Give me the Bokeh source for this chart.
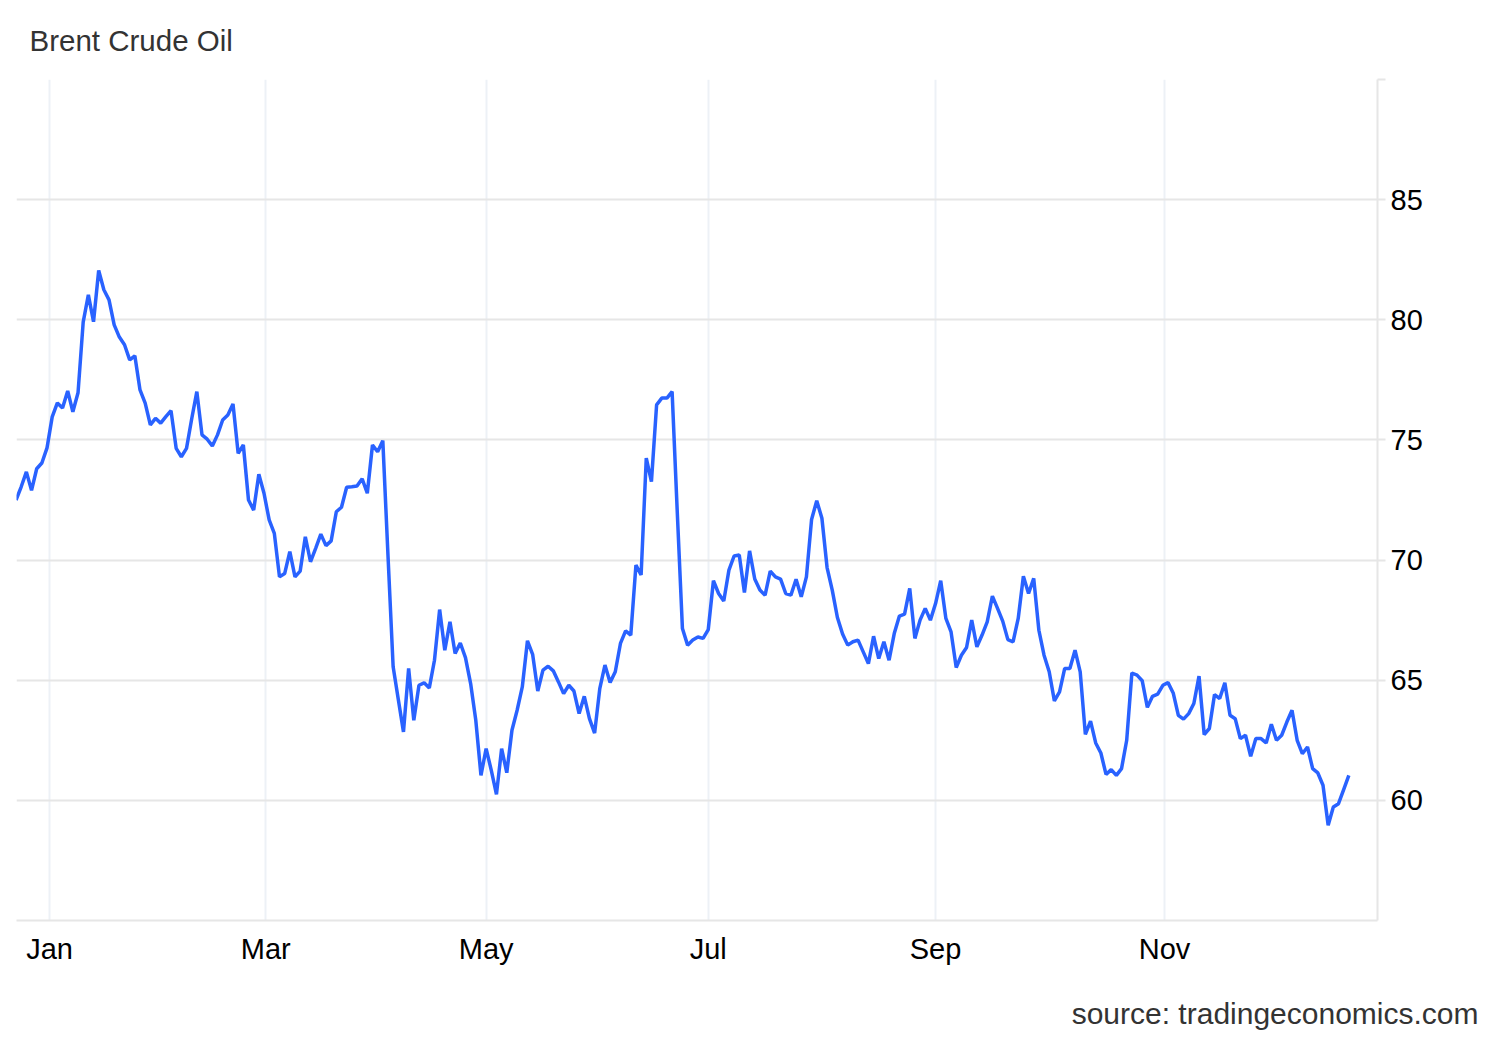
import numpy as np
import pandas as pd
from bokeh.plotting import figure
from bokeh.layouts import column
from bokeh.models import Range1d, FixedTicker, Label, ColumnDataSource
from bokeh.embed import file_html
from bokeh.resources import INLINE

title_text = "Brent Crude Oil"
source_text = "source: tradingeconomics.com"

# trading calendar (weekdays minus exchange holidays)
start_date = "2024-12-20"
end_date = "2025-12-22"
holidays = ["2024-12-25", "2025-01-01", "2025-04-18"]

# daily closes, by month (USD/bbl)
dec24 = [72.50, 73.05, 73.67, 72.90, 73.80, 74.04, 74.67]
jan = [75.96, 76.54, 76.33, 77.04, 76.17, 76.96, 79.90, 81.04, 79.92, 82.05, 81.25,
       80.83, 79.79, 79.28, 78.96, 78.33, 78.50, 77.08, 76.53, 75.63, 75.90, 75.70]
feb = [75.97, 76.22, 74.65, 74.30, 74.65, 75.87, 77.01, 75.21, 75.03, 74.75, 75.21,
       75.83, 76.04, 76.50, 74.44, 74.79, 72.50, 72.08, 73.57, 72.78]
mar = [71.67, 71.11, 69.30, 69.44, 70.35, 69.30, 69.54, 70.97, 69.93, 70.49, 71.08,
       70.60, 70.80, 72.01, 72.20, 73.03, 73.05, 73.08, 73.38, 72.78, 74.79]
apr = [74.51, 74.97, 70.20, 65.56, 64.20, 62.85, 65.49, 63.33, 64.79, 64.89, 64.68,
       65.83, 67.94, 66.25, 67.43, 66.11, 66.55, 65.94, 64.86, 63.33, 61.04]
may = [62.15, 61.25, 60.25, 62.15, 61.15, 62.92, 63.75, 64.72, 66.64, 66.08, 64.55,
       65.42, 65.58, 65.39, 64.93, 64.44, 64.79, 64.55, 63.61, 64.33, 63.40, 62.80]
jun = [64.65, 65.63, 64.90, 65.35, 66.53, 67.05, 66.88, 69.79, 69.38, 74.24, 73.26,
       76.46, 76.74, 76.74, 77.01, 72.00, 67.15, 66.46, 66.67, 66.80, 66.74]
jul = [67.11, 69.14, 68.61, 68.30, 69.58, 70.17, 70.21, 68.65, 70.38, 69.21, 68.75,
       68.54, 69.54, 69.30, 69.21, 68.61, 68.54, 69.20, 68.47, 69.30, 71.69, 72.47, 71.74]
aug = [69.69, 68.75, 67.61, 66.92, 66.46, 66.60, 66.67, 66.18, 65.69, 66.83, 65.90,
       66.60, 65.83, 66.94, 67.67, 67.75, 68.82, 66.74, 67.50, 67.99, 67.50]
sep = [68.19, 69.14, 67.57, 67.01, 65.53, 66.04, 66.36, 67.50, 66.39, 66.88, 67.43,
       68.50, 67.99, 67.46, 66.69, 66.60, 67.57, 69.33, 68.61, 69.24, 67.08, 66.04]
oct_ = [65.35, 64.14, 64.51, 65.49, 65.49, 66.25, 65.35, 62.75, 63.30, 62.39, 61.97,
        61.08, 61.28, 61.04, 61.32, 62.50, 65.30, 65.21, 64.98, 63.87, 64.33, 64.42, 64.79]
nov = [64.90, 64.47, 63.54, 63.38, 63.61, 64.03, 65.17, 62.74, 62.99, 64.40, 64.24,
       64.89, 63.54, 63.40, 62.57, 62.71, 61.83, 62.57, 62.57, 62.39]
dec = [63.17, 62.50, 62.71, 63.26, 63.75, 62.50, 61.94, 62.22, 61.32, 61.14, 60.63,
       58.96, 59.72, 59.86, 60.45, 61.04]

month_starts = ["2025-01-01", "2025-03-01", "2025-05-01", "2025-07-01", "2025-09-01", "2025-11-01"]
month_labels = ["Jan", "Mar", "May", "Jul", "Sep", "Nov"]
y_ticks = [60, 65, 70, 75, 80, 85, 90]

values = dec24 + jan + feb + mar + apr + may + jun + jul + aug + sep + oct_ + nov + dec
dates = pd.bdate_range(start_date, end_date, freq="C", holidays=holidays)
n = min(len(dates), len(values))
dates = dates[:n]
values = values[:n]
idx = np.arange(n, dtype=float)

# ordinal axis: month ticks interpolated between trading days
ts = dates.asi8.astype(float)
tick_pos = [round(float(np.interp(pd.Timestamp(m).value, ts, idx)), 4) for m in month_starts]

src = ColumnDataSource(dict(x=idx, y=values))

FONT = "Liberation Sans"
W = 1492


def text_strip(h):
    f = figure(width=W, height=h, output_backend="svg", toolbar_location=None,
               x_range=Range1d(0, W), y_range=Range1d(0, h), min_border=0,
               x_axis_location=None, y_axis_location=None, frame_align=False,
               outline_line_color=None, background_fill_color="white",
               border_fill_color="white")
    f.grid.visible = False
    return f


# header strip with the title
top = text_strip(60)
top.add_layout(Label(x=29, y=20, text=title_text, text_font=FONT, text_font_size="29.5px",
                     text_color="#333333", text_align="left", text_baseline="middle"))

# main chart
p = figure(width=W, height=915, output_backend="svg", toolbar_location=None,
           x_range=Range1d(0.09, 263.55), y_range=Range1d(55, 90),
           y_axis_location="right", frame_align=False,
           min_border_left=16, min_border_right=115, min_border_top=19, min_border_bottom=55,
           outline_line_color=None, background_fill_color="white", border_fill_color="white")

p.line("x", "y", source=src, line_color="#2962ff", line_width=3.5)

xax = p.xaxis[0]
xax.ticker = FixedTicker(ticks=tick_pos)
xax.major_label_overrides = {t: l for t, l in zip(tick_pos, month_labels)}
xax.axis_line_color = "#e6e6e6"
xax.axis_line_width = 2
xax.major_tick_line_color = None
xax.minor_tick_line_color = None
xax.major_tick_out = 0
xax.major_tick_in = 0
xax.major_label_standoff = 12
xax.major_label_text_font = FONT
xax.major_label_text_font_size = "29px"
xax.major_label_text_color = "#000000"

yax = p.yaxis[0]
yax.ticker = FixedTicker(ticks=y_ticks)
yax.major_label_overrides = {90: ""}
yax.axis_line_color = "#e6e6e6"
yax.axis_line_width = 2
yax.major_tick_line_color = "#e6e6e6"
yax.major_tick_line_width = 2
yax.major_tick_out = 8
yax.major_tick_in = 0
yax.minor_tick_line_color = None
yax.major_label_standoff = 5
yax.major_label_text_font = FONT
yax.major_label_text_font_size = "29px"
yax.major_label_text_color = "#000000"

p.ygrid.grid_line_color = "#e6e6e6"
p.ygrid.grid_line_width = 2
p.xgrid.ticker = FixedTicker(ticks=tick_pos)
p.xgrid.grid_line_color = "#edf1f6"
p.xgrid.grid_line_width = 2

# footer strip with the source
bottom = text_strip(61)
bottom.add_layout(Label(x=1478, y=23, text=source_text, text_font=FONT, text_font_size="30px",
                        text_color="#333333", text_align="right", text_baseline="middle"))

layout = column(top, p, bottom, spacing=0)
open("out.html", "w").write(file_html(layout, INLINE))
